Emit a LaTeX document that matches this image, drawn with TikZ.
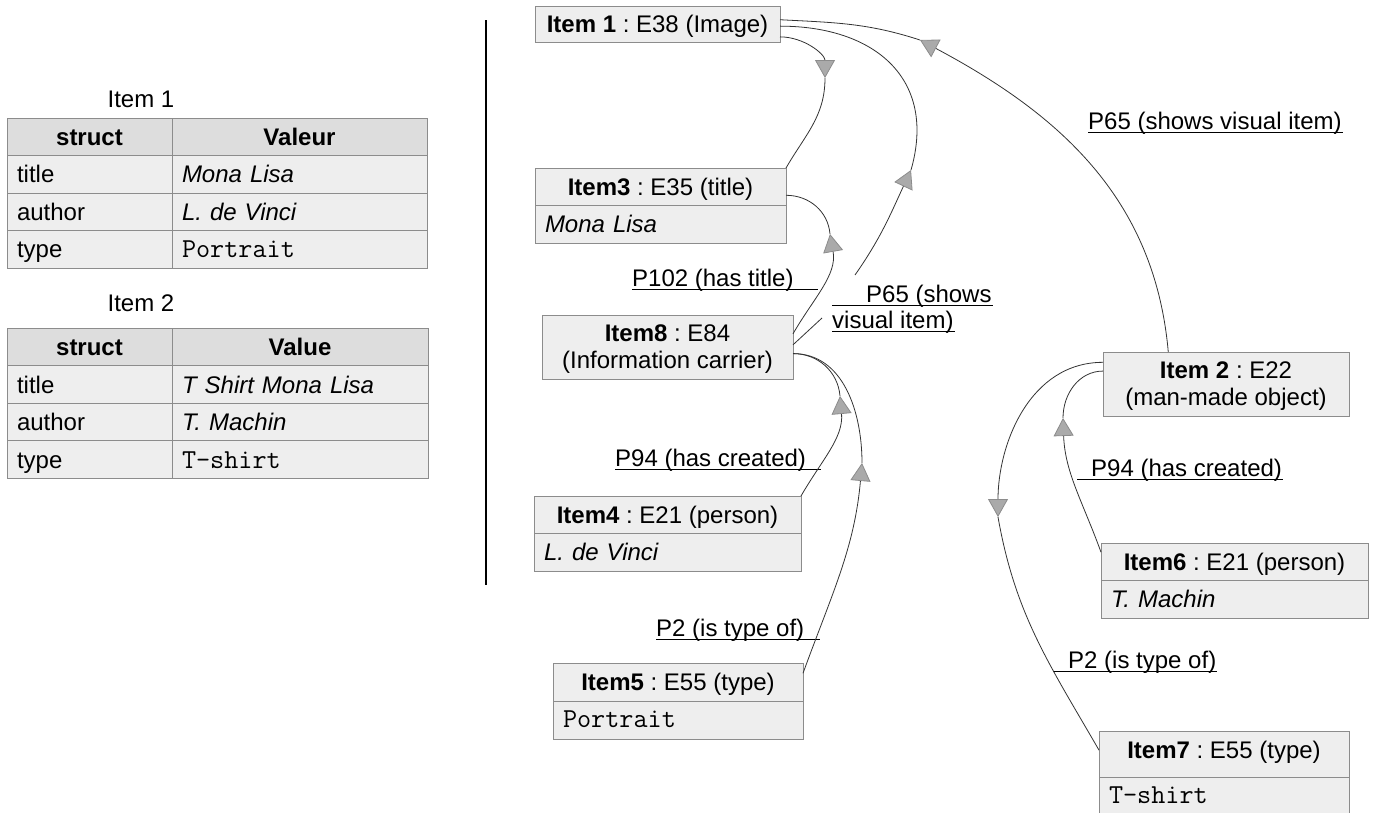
\documentclass[tikz,border=0pt]{standalone}
\usepackage{fontspec}
\setmainfont{Liberation Sans}
\usetikzlibrary{arrows.meta,calc,positioning}
\definecolor{boxgray}{HTML}{EEEEEE}
\definecolor{headgray}{HTML}{DDDDDD}
\definecolor{linegray}{HTML}{8C8C8C}
\definecolor{tipgray}{HTML}{AAAAAA}
\definecolor{wirecol}{HTML}{333333}
\frenchspacing
\newcommand\code[1]{{\ttfamily\fontsize{27.4}{30}\selectfont #1}}
\tikzset{
  box/.style={draw=linegray, fill=boxgray, line width=0.9pt, inner sep=0, outer sep=0, minimum height=37},
  item/.style={box, text height=17, text depth=0},
  itemval/.style={item, inner xsep=10, align=left, minimum height=38},
  ttl/.style={inner sep=0, text height=17, text depth=0},
  thead/.style={item, fill=headgray, minimum height=37.5},
  tcell/.style={item, inner xsep=10, align=left, minimum height=37.5},
  wire/.style={draw=wirecol, line width=0.8pt},
  tri/.style={wire, -{Triangle[length=18pt,width=20pt,fill=tipgray,color=linegray,line width=0.8pt]}},
  lbl/.style={inner sep=0, anchor=base west},
  uline/.style={line width=0.9pt},
}
\begin{document}
\begin{tikzpicture}[x=1pt,y=-1pt,font=\fontsize{24}{27}\selectfont]
\useasboundingbox (0,0) rectangle (1381,812);

% left tables
\node[ttl] (t1) at (141,99) {Item 1};
\node[thead, minimum width=165] (t1a0) at (89.5,136.75) {\textbf{struct}};
\node[thead, minimum width=255] (t1b0) at (299.5,136.75) {\textbf{Valeur}};
\foreach \r/\k/\v in {1/title/\textit{Mona Lisa},2/author/\textit{L. de Vinci},3/type/\code{Portrait}}{
  \node[tcell, text width=145] (t1a\r) at (89.5,136.75+37.5*\r) {\k};
  \node[tcell, text width=235] (t1b\r) at (299.5,136.75+37.5*\r) {\v};
}
\node[ttl] (t2) at (141,303) {Item 2};
\node[thead, minimum width=165] (t2a0) at (89.5,347) {\textbf{struct}};
\node[thead, minimum width=256] (t2b0) at (300,347) {\textbf{Value}};
\foreach \r/\k/\v in {1/title/\textit{T Shirt Mona Lisa},2/author/\textit{T. Machin},3/type/\code{T-shirt}}{
  \node[tcell, text width=145] (t2a\r) at (89.5,347+37.5*\r) {\k};
  \node[tcell, text width=236] (t2b\r) at (300,347+37.5*\r) {\v};
}

\draw[line width=1.5pt] (486,20) -- (486,585);

% items
\node[item, minimum width=245, minimum height=36] (i1) at (657.5,24) {\textbf{Item 1} : E38 (Image)};
\node[item, minimum width=251] (i3) at (660.5,186.5) {\textbf{Item3} : E35 (title)};
\node[itemval, text width=231, below=0pt of i3] (i3v) {\textit{Mona Lisa}};
\node[box, minimum width=251, minimum height=64, align=center, text depth=0] (i8) at (667.5,347) {\textbf{Item8} : E84\\(Information carrier)};
\node[item, minimum width=267] (i4) at (667.5,514.5) {\textbf{Item4} : E21 (person)};
\node[itemval, text width=247, below=0pt of i4] (i4v) {\textit{L. de Vinci}};
\node[item, minimum width=250, minimum height=38] (i5) at (678,682) {\textbf{Item5} : E55 (type)};
\node[itemval, text width=230, text height=14, below=0pt of i5] (i5v) {\code{Portrait}};
\node[box, minimum width=246, minimum height=64, align=center, text depth=0] (i2) at (1226,384) {\textbf{Item 2} : E22\\(man-made object)};
\node[item, minimum width=267] (i6) at (1234.5,561.5) {\textbf{Item6} : E21 (person)};
\node[itemval, text width=247, below=0pt of i6] (i6v) {\textit{T. Machin}};
\node[item, minimum width=250, minimum height=46, text depth=9] (i7) at (1224,754.5) {\textbf{Item7} : E55 (type)};
\node[itemval, text width=230, text height=14, below=0pt of i7] (i7v) {\code{T-shirt}};

% labels
\node[lbl] (l1) at (632,286) {P102 (has title)};
\node[lbl] (l2a) at (866,302) {P65 (shows};
\node[lbl] (l2b) at (832,328) {visual item)};
\node[lbl] (l3) at (1088,129) {P65 (shows visual item)};
\node[lbl] (l4) at (615,466) {P94 (has created)};
\node[lbl] (l5) at (656,636.5) {P2 (is type of)};
\node[lbl] (l6) at (1091,476) {P94 (has created)};
\node[lbl] (l7) at (1068,668) {P2 (is type of)};
\draw[uline] ($(l1.base west)+(0,3)$) -- ++(186,0);
\draw[uline] ($(l2a.base west)+(-34,3.5)$) -- ++(161,0);
\draw[uline] ($(l2b.base west)+(0,3.5)$) -- ++(123,0);
\draw[uline] ($(l3.base west)+(0,3)$) -- ++(255,0);
\draw[uline] ($(l4.base west)+(0,3)$) -- ++(206,0);
\draw[uline] ($(l5.base west)+(0,3)$) -- ++(164,0);
\draw[uline] ($(l6.base west)+(-14,3)$) -- ++(206,0);
\draw[uline] ($(l7.base west)+(-15,3.5)$) -- ++(164,0);

% connectors
\coordinate (mA) at (825,78);
\coordinate (mB) at (830,234);
\coordinate (mC) at (911,170);
\coordinate (cC) at (855,275);
\coordinate (cL) at (822,318);
\coordinate (mD) at (920,40);
\coordinate (mE) at (840,396);
\coordinate (mF) at (862,463);
\coordinate (mG) at (998,517);
\coordinate (mH) at (1063,418);

\draw[tri] (i1.-6) to[out=0,in=90] (mA);
\draw[wire] (mA) to[out=-90,in=60] (i3.north east);
\draw[tri] (i8.6) to[out=60,in=-80] (mB);
\draw[wire] (mB) to[out=95,in=0] (i3.-4);
\draw[tri] (cC) to[out=55,in=-115] (mC);
\draw[wire] (mC) to[out=74,in=0,looseness=1.25] (i1.-1);
\draw[wire] (i8.1) -- (cL);
\draw[tri] (i2.151) to[out=95,in=-28] (mD);
\draw[wire] (mD) to[out=162,in=-3] (i1.2);
\draw[tri] (i4.north east) to[out=60,in=-85] (mE);
\draw[wire] (mE) to[out=95,in=0] (i8.-3);
\draw[tri] (i5.4) to[out=70,in=-95] (mF);
\draw[wire] (mF) to[out=90,in=0] (i8.-3);
\draw[tri] (i2.170) to[out=180,in=90] (mG);
\draw[wire] (mG) to[out=-80,in=120] (i7.178);
\draw[tri] (i6.176) to[out=110,in=-88] (mH);
\draw[wire] (mH) to[out=90,in=180] (i2.174);
\end{tikzpicture}
\end{document}
